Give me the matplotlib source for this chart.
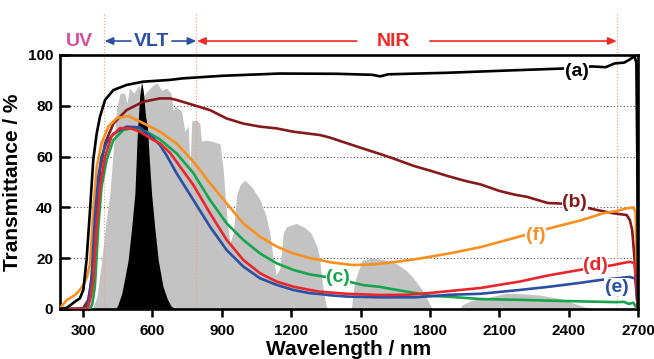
import matplotlib
matplotlib.use("Agg")
import matplotlib.pyplot as plt

plt.rcParams['font.family'] = ['Liberation Sans', 'DejaVu Sans']
plt.rcParams['font.weight'] = 'bold'

# ---------------- data ----------------
# Solar spectrum (AM1.5, normalised) - grey area
sun_wl = [300, 340, 360, 380, 400, 416, 430, 445, 460, 480, 490, 500, 520, 540, 560, 580, 600,
          620, 640, 660, 680, 690, 697, 710, 726, 740, 755, 762, 770, 790, 805, 812, 830, 860,
          892, 906, 920, 935, 950, 964, 980, 1000, 1030, 1065, 1090, 1108, 1122, 1135, 1151,
          1166, 1180, 1223, 1260, 1286, 1310, 1322, 1335, 1344, 1352,
          1360, 1460, 1473, 1490, 1508, 1551, 1600, 1653, 1700, 1724, 1767, 1797, 1810, 1930,
          1939, 1983, 2050, 2128, 2200, 2272, 2358, 2444, 2480, 2500]
sun_T = [0, 0, 5, 19, 35, 45.6, 62, 79, 85, 85, 81, 87, 85, 88, 84, 86, 88,
         89, 86, 87, 85, 78, 80, 79, 78, 70, 72, 55, 74, 74.4, 73, 66, 66.5, 66,
         65, 55, 38, 26, 30, 45, 49, 50.8, 48, 43, 37, 29.8, 20, 13.4, 16,
         30, 32.4, 33.7, 32, 29.8, 25, 20.6, 10, 4.8, 1,
         0, 0, 10, 15, 19.3, 20, 19.5, 18, 15, 12.7, 7.5, 2.4, 0, 0,
         1.6, 3.5, 4.5, 6.2, 6, 5.5, 4.2, 1.6, 0.5, 0]

# Photopic luminous efficiency (scaled) - black area
vlt_wl = [440, 450, 467, 480, 495, 510, 524, 534, 545, 553, 560, 570, 578, 587, 596, 610, 625,
          645, 664, 680, 700]
vlt_T = [0, 1.5, 6, 12, 19.3, 32, 45.5, 68, 84, 89.5, 86, 76, 71.8, 58, 45.5, 32, 19.3,
         9, 4, 1.2, 0]

# (a) black
a_wl = [200, 230, 265, 286, 301, 315, 330, 344, 359, 373, 395, 431, 488, 560, 676, 731, 900,
        1150, 1400, 1550, 1585, 1620, 1875, 2168, 2384, 2500, 2560, 2600, 2640, 2660, 2685,
        2693, 2697, 2700]
a_T = [0, 0.5, 2.9, 4.2, 7.5, 19.3, 39, 58.7, 69.2, 75.7, 82.3, 86.2, 88.2, 89.5, 90.2, 90.8, 91.8,
       92.7, 92.6, 92.2, 91.6, 92.4, 93, 94, 94.7, 95.5, 95.2, 96.7, 97, 98, 99.5,
       97, 60, 0]

# (b) dark red
b_wl = [200, 300, 322, 334, 344, 359, 373, 395, 431, 488, 560, 632, 676, 704, 777, 849, 921,
        993, 1065, 1137, 1209, 1324, 1367, 1450, 1500, 1585, 1650, 1731, 1800,
        1875, 1950, 2021, 2100, 2167, 2218, 2311, 2348, 2400, 2450, 2521, 2592, 2651, 2665,
        2675, 2685, 2695, 2700]
b_T = [0, 0.3, 3.5, 10, 19.3, 39, 54.7, 65.2, 73, 78.3, 81.6, 82.9, 82.9, 82.3, 80.3, 78.3, 75,
       73, 71.8, 71.1, 69.8, 68.5, 67.5, 65, 63.5, 61, 59, 56.3, 54.5,
       52.4, 50.5, 49, 46.5, 45, 44.2, 41.7, 41.6, 41.3, 40.5, 39, 37.7, 37, 35,
       31, 20, 5, 0]

# (c) green
c_wl = [200, 330, 340, 351, 366, 380, 402, 431, 474, 517, 575, 632, 704, 777, 849, 921, 993,
        1065, 1137, 1209, 1281, 1324, 1400, 1512, 1585, 1656, 1742, 1803, 1886, 2021, 2189,
        2311, 2450, 2604, 2640, 2660, 2680, 2690, 2700]
c_T = [0, 0, 2, 8.8, 32.4, 48.2, 58.7, 66.5, 70.5, 71.2, 69.8, 66.8, 61.3, 53.5, 42.9, 33.7, 27.2,
       21.9, 18, 15.4, 13.6, 13, 11.8, 9.4, 8.7, 7.5, 6.2, 5.2, 4.8, 3.9, 3.6,
       3.3, 3.0, 2.7, 2.8, 2.0, 2.5, 1.0, 0]

# (d) red
d_wl = [200, 315, 322, 334, 344, 359, 373, 395, 423, 459, 503, 546, 604, 632, 676, 704, 777,
        849, 921, 993, 1065, 1137, 1209, 1281, 1324, 1439, 1584, 1700, 1800, 1900, 2021, 2100,
        2189, 2311, 2449, 2522, 2593, 2630, 2665, 2685, 2693, 2700]
d_T = [0, 0, 0.9, 5, 11.4, 32.4, 48.2, 60, 67.9, 71.2, 71.2, 69.8, 66.5, 65.2, 61.5, 58, 48.8,
       37.7, 27.2, 19.3, 14.1, 10.8, 8.8, 7.5, 6.8, 6, 5.5, 5.6, 6.3, 7.2, 8.3, 9.5,
       10.8, 13.2, 15.4, 16.2, 17.3, 18, 18.6, 18, 10, 0]

# (e) blue
e_wl = [200, 308, 315, 326, 337, 351, 366, 380, 402, 431, 488, 546, 604, 632, 661, 704, 777,
        849, 921, 993, 1065, 1137, 1209, 1281, 1324, 1368, 1439, 1584, 1731, 1800, 1886, 2021,
        2189, 2311, 2450, 2535, 2665, 2688, 2695, 2700]
e_T = [0, 0, 0.9, 4, 12.7, 36, 52, 60, 65.5, 69, 71.8, 71.5, 67.2, 64.6, 60.5, 53.5, 42.9,
       32.4, 23.2, 16.7, 12.1, 9.5, 7.5, 6.2, 5.9, 5.4, 4.9, 4.6, 4.6, 5.0, 5.6, 6.0,
       7.5, 8.7, 10.3, 11.4, 12.6, 12, 5, 0]

# (f) orange
f_wl = [200, 229, 265, 286, 305, 318, 330, 344, 359, 380, 409, 445, 495, 546, 632, 704, 777,
        849, 921, 993, 1065, 1137, 1209, 1281, 1324, 1368, 1468, 1560, 1656, 1731,
        1886, 2021, 2239, 2305, 2457, 2550, 2603, 2650, 2680, 2690, 2697, 2700]
f_T = [0.3, 3.5, 5.5, 7.5, 10, 13, 17.9, 38.9, 56, 65.2, 71.8, 75.1, 76, 73.8, 69.8, 65.2, 58,
       49.5, 41.6, 33.7, 28.5, 24.6, 21.9, 20, 19.3, 18.4, 17.3, 17.6, 18.6, 19.5,
       21.9, 24.4, 29.8, 31.5, 35, 37.7, 38.5, 39.6, 40, 38, 5, 0]

x_ticks = [300, 600, 900, 1200, 1500, 1800, 2100, 2400, 2700]
y_ticks = [0, 20, 40, 60, 80, 100]
region_lines = [390, 790, 2608]

labels = ['(a)', '(b)', '(c)', '(d)', '(e)', '(f)']
label_pos = [(2434, 93.4), (2427, 42.0), (1403, 12.5), (2516, 17.0), (2607, 8.6), (2256, 29.1)]

col_a = '#000000'
col_b = '#861a1a'
col_c = '#15a54a'
col_d = '#e8262b'
col_e = '#2a4fa3'
col_f = '#f7901e'
col_uv = '#d84f9e'
col_vlt = '#2a4fa3'
col_nir = '#ee2a24'

# ---------------- figure ----------------
fig = plt.figure(figsize=(6.54, 3.59), dpi=100)
ax = fig.add_axes([0.0917, 0.1393, 0.8838, 0.7075])

ax.set_xlim(200, 2700)
ax.set_ylim(0, 100)

# grid
for yv in [20, 40, 60, 80]:
    ax.axhline(yv, color='#555555', lw=0.8, ls=(0, (1, 2)), zorder=0.5)

ax.fill_between(sun_wl, 0, sun_T, color='#c3c3c3', lw=0, zorder=1)
ax.fill_between(vlt_wl, 0, vlt_T, color='#000000', lw=0, zorder=1.5)

for xv in region_lines:
    ax.plot([xv, xv], [0, 116], color='#f4a08a', lw=0.9, ls=(0, (1, 1.5)),
            clip_on=False, zorder=2)

lw = 1.9
kw = dict(lw=lw, solid_joinstyle='round', solid_capstyle='round')
ax.plot(b_wl, b_T, color=col_b, zorder=3, **kw)
ax.plot(f_wl, f_T, color=col_f, zorder=3.2, **kw)
ax.plot(c_wl, c_T, color=col_c, zorder=3.1, **kw)
ax.plot(e_wl, e_T, color=col_e, zorder=3.3, **kw)
ax.plot(d_wl, d_T, color=col_d, zorder=3.4, **kw)
ax.plot(a_wl, a_T, color=col_a, zorder=3.5, **kw)

cols = [col_a, col_b, col_c, col_d, col_e, col_f]
for lab, (xx, yy), cc in zip(labels, label_pos, cols):
    ax.text(xx, yy, lab, color=cc, fontsize=14, fontweight='bold', ha='center', va='center',
            zorder=5, bbox=dict(boxstyle='square,pad=0.02', fc='white', ec='none'))

# header
hy = 105.5
ax.text(286, hy, 'UV', color=col_uv, fontsize=14, fontweight='bold', ha='center', va='center',
        clip_on=False)
ax.text(598, hy, 'VLT', color=col_vlt, fontsize=14, fontweight='bold', ha='center', va='center',
        clip_on=False)
ax.text(1644, hy, 'NIR', color=col_nir, fontsize=14, fontweight='bold', ha='center', va='center',
        clip_on=False)
aprops = dict(arrowstyle='-|>,head_length=0.5,head_width=0.22', lw=1.2, shrinkA=0, shrinkB=0)
for (x0, x1, cc) in [(507, 393, col_vlt), (684, 790, col_vlt), (1484, 793, col_nir), (1800, 2608, col_nir)]:
    ax.annotate('', xy=(x1, hy), xytext=(x0, hy),
                arrowprops=dict(aprops, color=cc), annotation_clip=False)

# axes styling
for s in ax.spines.values():
    s.set_linewidth(1.9)
ax.set_xticks(x_ticks)
ax.set_yticks(y_ticks)
ax.tick_params(axis='x', direction='out', length=6, width=1.8, pad=5, labelsize=11)
ax.tick_params(axis='y', direction='in', length=7, width=1.8, pad=5, labelsize=11)
for t in ax.get_xticklabels() + ax.get_yticklabels():
    t.set_fontweight('bold')

ax.set_xlabel('Wavelength / nm', fontsize=15, fontweight='bold', labelpad=1)
ax.set_ylabel('Transmittance / %', fontsize=15, fontweight='bold', labelpad=4)

fig.savefig('out.png', dpi=100)
